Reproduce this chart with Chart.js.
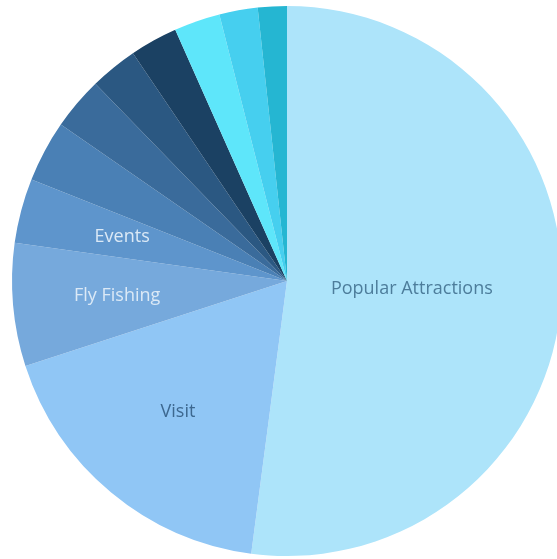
<!DOCTYPE html>
<html>
<head>
<meta charset="utf-8">
<script src="https://cdn.jsdelivr.net/npm/chart.js@4/dist/chart.umd.min.js"></script>
<style>
  html, body { margin: 0; padding: 0; background: #fff; overflow: hidden; }
  body { width: 557px; height: 559px; position: relative; }
  #wrap { position: absolute; left: 0; top: 6px; width: 574px; height: 550px; }
</style>
</head>
<body>
<div id="wrap"><canvas id="pie"></canvas></div>
<script>
// slices, clockwise from 12 o'clock (only the big ones carry a visible label)
const labels = ['Popular Attractions', 'Visit', 'Fly Fishing', 'Events',
  'Slice 5', 'Slice 6', 'Slice 7', 'Slice 8', 'Slice 9', 'Slice 10', 'Slice 11'];
const values = [52.0, 17.9, 7.2, 3.8, 3.6, 3.1, 2.8, 2.8, 2.7, 2.25, 1.7];
const colors = ['#ade4fa', '#90c6f5', '#76a9dc', '#5e95cc', '#4a80b5', '#3a6b9b',
  '#2b5882', '#1b4163', '#5ee6fa', '#46cfef', '#25b6d2'];
const shownLabels = ['Popular Attractions', 'Visit', 'Fly Fishing', 'Events'];
const textColors = ['#4d7d9b', '#3d6890', '#dbe9f6', '#dbe9f6'];

// draws the in-slice text
const sliceText = {
  id: 'sliceText',
  afterDatasetsDraw(chart) {
    const ctx = chart.ctx;
    const meta = chart.getDatasetMeta(0);
    ctx.save();
    ctx.font = '18px "Open Sans", sans-serif';
    ctx.textAlign = 'center';
    ctx.textBaseline = 'middle';
    meta.data.forEach((arc, i) => {
      const k = shownLabels.indexOf(labels[i]);
      if (k < 0) return;
      const span = arc.endAngle - arc.startAngle;
      const mid = (arc.startAngle + arc.endAngle) / 2;
      const r = arc.outerRadius * (span > Math.PI ? 0.455 : 0.62);
      ctx.fillStyle = textColors[k];
      ctx.fillText(labels[i], arc.x + Math.cos(mid) * r, arc.y + Math.sin(mid) * r);
    });
    ctx.restore();
  }
};

new Chart(document.getElementById('pie'), {
  type: 'pie',
  data: {
    labels: labels,
    datasets: [{
      data: values,
      backgroundColor: colors,
      borderWidth: 0
    }]
  },
  options: {
    responsive: true,
    maintainAspectRatio: false,
    animation: false,
    layout: { padding: 0 },
    plugins: {
      legend: { display: false },
      tooltip: { enabled: false }
    }
  },
  plugins: [sliceText]
});
</script>
</body>
</html>
